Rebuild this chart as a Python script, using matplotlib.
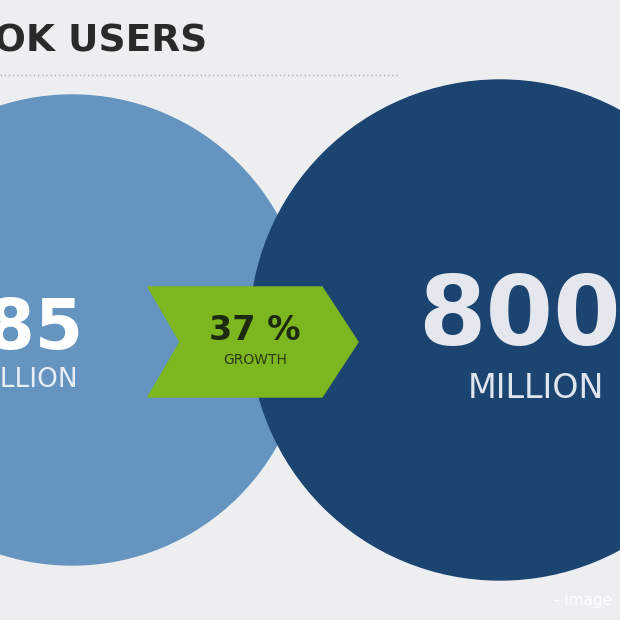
import matplotlib.pyplot as plt
from matplotlib.patches import Circle, Polygon

# values shown in the infographic
labels = ["585", "800-"]
units = ["MILLION", "MILLION"]
growth_pct = 37
title = "FACEBOOK USERS"

fig = plt.figure(figsize=(6.2, 6.2), dpi=100)
fig.patch.set_facecolor("#eceef0")
ax = fig.add_axes([0, 0, 1, 1])
ax.set_xlim(0, 620)
ax.set_ylim(620, 0)
ax.axis("off")

# title, cut off at left edge
ax.text(207, 42, title, fontsize=27, fontweight="bold", color="#2a2a2a",
        ha="right", va="center")
ax.plot([0, 400], [75, 75], ls=(0, (1, 2)), color="#a9adb2", lw=1)

ax.add_patch(Circle((72, 330), 235, color="#6494bf", zorder=1))
ax.add_patch(Circle((500, 330), 250, color="#1b4470", zorder=2))

arrow = Polygon([(148, 287), (322, 287), (358, 342), (322, 397), (148, 397), (180, 342)],
                closed=True, color="#7cb71f", zorder=3)
ax.add_patch(arrow)
ax.text(255, 330, f"{growth_pct} %", fontsize=24, fontweight="bold", color="#1e2a10",
        ha="center", va="center", zorder=4)
ax.text(255, 360, "GROWTH", fontsize=10, color="#2a3a14", ha="center", va="center", zorder=4)

ax.text(84, 330, labels[0], fontsize=50, fontweight="bold", color="white",
        ha="right", va="center", zorder=4)
ax.text(78, 380, units[0], fontsize=19, color="#e8eef5", ha="right", va="center", zorder=4)
ax.text(418, 318, labels[1], fontsize=70, fontweight="bold", color="#e4e8ee",
        ha="left", va="center", zorder=4)
ax.text(468, 388, units[1], fontsize=24, color="#dfe5ec", ha="left", va="center", zorder=4)

ax.text(612, 601, "- image", fontsize=11, color="white", ha="right", va="center", zorder=5)

fig.savefig("out.png", dpi=100, facecolor=fig.get_facecolor())
